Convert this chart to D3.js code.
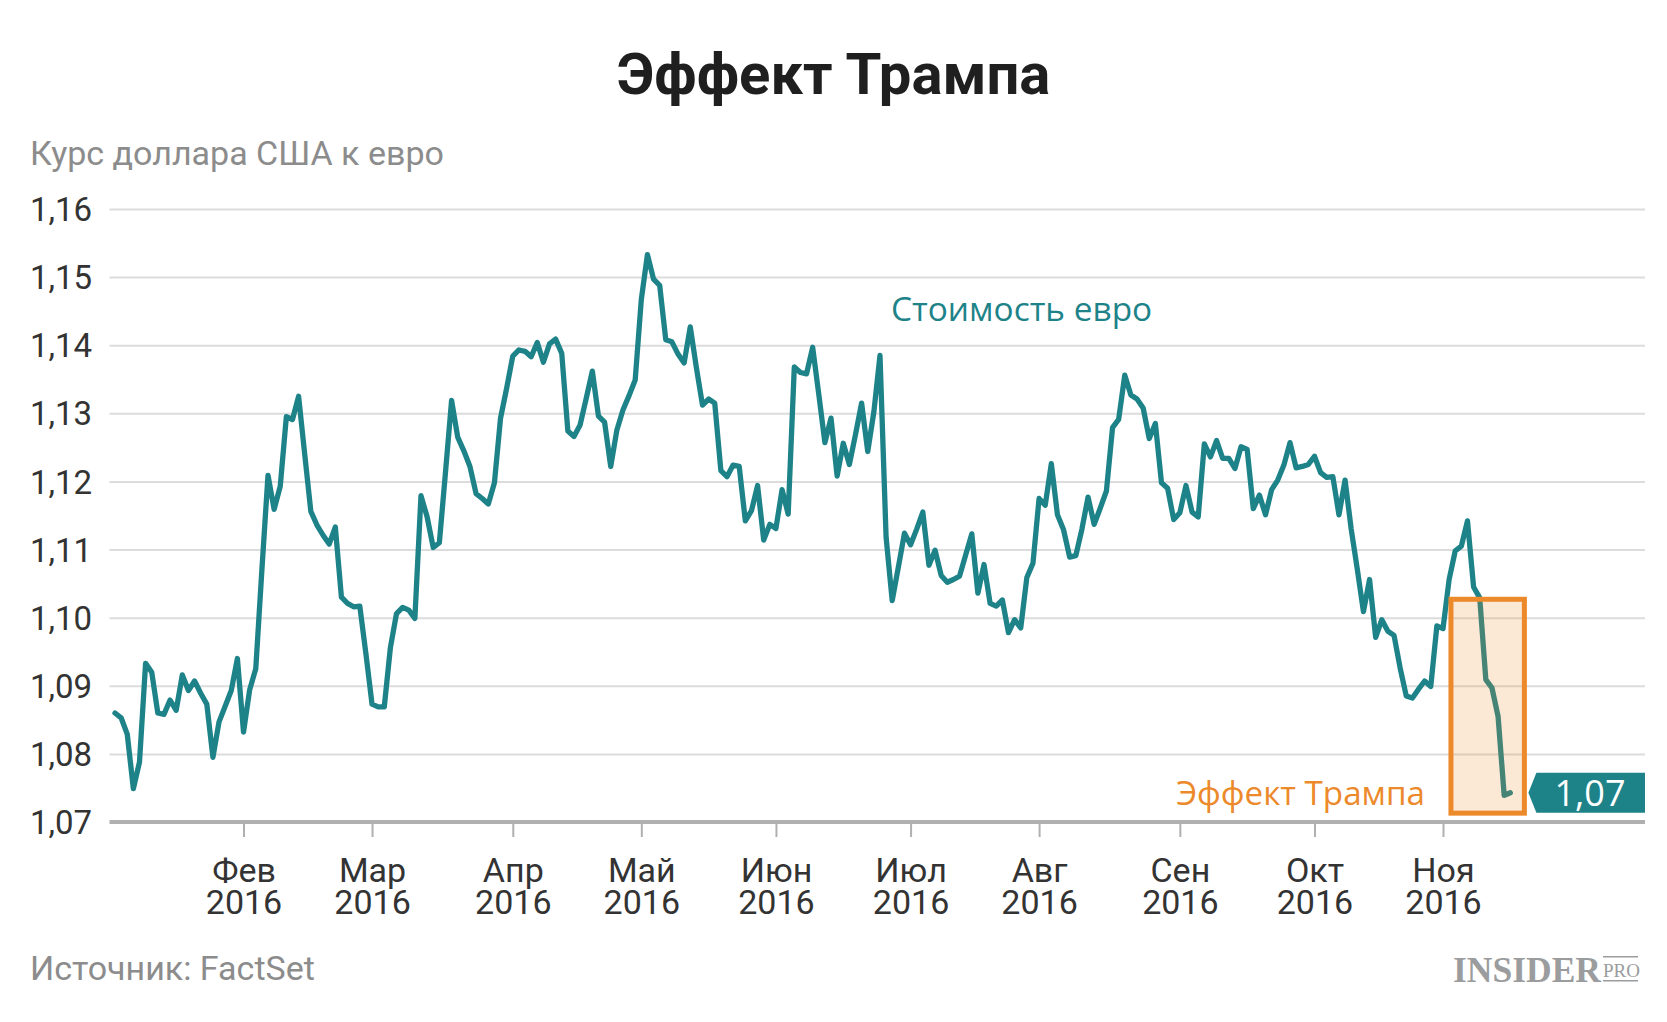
<!DOCTYPE html>
<html><head><meta charset="utf-8">
<script src="https://cdn.jsdelivr.net/npm/d3@7/dist/d3.min.js"></script>
<style>
html,body{margin:0;padding:0;background:#fff;}
svg{display:block;}
</style></head>
<body>
<svg id="chart" width="1667" height="1022"></svg>
<script>
// ---- DATA ----
const title = "Эффект Трампа";
const subtitle = "Курс доллара США к евро";
const source = "Источник: FactSet";
const seriesLabel = "Стоимость евро";
const eventLabel = "Эффект Трампа";
const firstDay = "2016-01-01"; // values are one per weekday starting here
const values = [
1.0860,1.0853,1.0829,1.0749,1.0788,1.0933,1.0920,1.0860,1.0858,1.0879,
1.0864,1.0916,1.0893,1.0907,1.0889,1.0873,1.0795,1.0847,1.0870,1.0893,
1.0940,1.0832,1.0894,1.0925,1.1070,1.1209,1.1159,1.1193,1.1295,1.1291,
1.1325,1.1240,1.1156,1.1136,1.1121,1.1108,1.1133,1.1030,1.1021,1.1016,
1.1017,1.0947,1.0873,1.0869,1.0869,1.0956,1.1006,1.1015,1.1011,1.0999,
1.1179,1.1148,1.1103,1.1110,1.1213,1.1319,1.1265,1.1245,1.1222,1.1182,
1.1175,1.1167,1.1198,1.1293,1.1337,1.1384,1.1393,1.1391,1.1383,1.1404,
1.1375,1.1402,1.1409,1.1388,1.1274,1.1266,1.1283,1.1322,1.1362,1.1296,
1.1287,1.1222,1.1275,1.1305,1.1326,1.1349,1.1467,1.1533,1.1497,1.1488,
1.1408,1.1405,1.1387,1.1374,1.1427,1.1367,1.1312,1.1321,1.1315,1.1216,
1.1207,1.1224,1.1222,1.1142,1.1157,1.1194,1.1114,1.1137,1.1131,1.1188,
1.1152,1.1368,1.1360,1.1358,1.1397,1.1328,1.1257,1.1293,1.1208,1.1256,
1.1225,1.1269,1.1315,1.1244,1.1302,1.1385,1.1118,1.1025,1.1074,1.1124,
1.1107,1.1130,1.1155,1.1077,1.1099,1.1062,1.1052,1.1056,1.1061,1.1092,
1.1123,1.1036,1.1078,1.1021,1.1017,1.1026,1.0978,1.0997,1.0985,1.1059,
1.1080,1.1175,1.1165,1.1226,1.1151,1.1129,1.1089,1.1091,1.1130,1.1177,
1.1137,1.1161,1.1186,1.1279,1.1291,1.1356,1.1327,1.1321,1.1308,1.1263,
1.1285,1.1198,1.1190,1.1144,1.1154,1.1194,1.1155,1.1148,1.1255,1.1236,
1.1260,1.1234,1.1234,1.1219,1.1251,1.1247,1.1160,1.1180,1.1151,1.1188,
1.1202,1.1224,1.1257,1.1220,1.1222,1.1225,1.1237,1.1213,1.1206,1.1207,
1.1151,1.1202,1.1130,1.1071,1.1009,1.1056,1.0971,1.0997,1.0980,1.0974,
1.0926,1.0885,1.0882,1.0895,1.0907,1.0899,1.0988,1.0984,1.1056,1.1098,
1.1105,1.1142,1.1045,1.1029,1.0909,1.0897,1.0855,1.0739,1.0743
];
const monthTickDates = ["2016-02-01","2016-03-01","2016-04-01","2016-05-02","2016-06-01","2016-07-01","2016-08-01","2016-09-01","2016-10-03","2016-11-01"];
const monthLabels = ["Фев","Мар","Апр","Май","Июн","Июл","Авг","Сен","Окт","Ноя"];
const yearLabel = "2016";
const yTicks = [1.07,1.08,1.09,1.10,1.11,1.12,1.13,1.14,1.15,1.16];
// highlighted period (trading-day index range and value range)
const boxDays = [218.3, 230.3];
const boxValues = [1.0713, 1.1027];

// ---- STYLE ----
const teal = "#1d8389", orange = "#ec8a2b";
const fontMain = "Roboto, 'Noto Sans', sans-serif";
const fontAnno = "'Open Sans', Roboto, sans-serif";

const svg = d3.select("#chart");
const W = 1667;
const gridLeft = 109.5, gridRight = 1645;

// weekday index helper
const parse = d3.utcParse("%Y-%m-%d");
const start = parse(firstDay);
function weekdayIndex(ds){
  const d = parse(ds);
  return d3.utcDay.range(start, d).filter(t => t.getUTCDay() !== 0 && t.getUTCDay() !== 6).length;
}
const tickIdx = monthTickDates.map(weekdayIndex);

const x = d3.scaleLinear().domain([0, 217]).range([115, 1443]);
const y = d3.scaleLinear().domain([1.07, 1.16]).range([822, 209]);
const fmt = v => d3.format(".2f")(v).replace(".", ",");

// title & texts
svg.append("text").attr("x", W/2).attr("y", 94).attr("text-anchor","middle")
  .attr("font-family", fontMain).attr("font-weight", 700).attr("font-size", 58)
  .attr("fill", "#1f1f1f").text(title);
svg.append("text").attr("x", 30).attr("y", 165)
  .attr("font-family", fontMain).attr("font-size", 34).attr("fill", "#8c8c8c").text(subtitle);
svg.append("text").attr("x", 30).attr("y", 980)
  .attr("font-family", fontMain).attr("font-size", 34).attr("fill", "#8c8c8c").text(source);

// y axis with gridlines
const yAxis = d3.axisRight(y).tickValues(yTicks).tickFormat(fmt).tickSize(gridRight - gridLeft).tickPadding(0);
const gy = svg.append("g").attr("transform", `translate(${gridLeft},0)`).call(yAxis);
gy.select(".domain").remove();
gy.selectAll(".tick line").attr("stroke", "#dcdcdc").attr("stroke-width", 2);
gy.selectAll(".tick text").attr("x", 30 - gridLeft).attr("dy", "0.35em").attr("text-anchor","start")
  .attr("font-family", fontMain).attr("font-size", 33).attr("fill", "#333");
gy.selectAll(".tick").filter(d => d === 1.07).select("line").remove();

// x axis
const xAxis = d3.axisBottom(x).tickValues(tickIdx).tickSize(15).tickFormat((d,i) => monthLabels[i]);
const gx = svg.append("g").attr("transform", "translate(0,822)").call(xAxis);
gx.select(".domain").remove();
gx.selectAll(".tick line").attr("stroke", "#b0b0b0").attr("stroke-width", 2);
gx.selectAll(".tick text").attr("y", 0).attr("dy", null)
  .attr("font-family", fontMain).attr("font-size", 34).attr("fill", "#333")
  .each(function(d,i){
    const t = d3.select(this); t.text(null);
    t.append("tspan").attr("x", 0).attr("y", 60).text(monthLabels[i]);
    t.append("tspan").attr("x", 0).attr("y", 92).text(yearLabel);
  });
svg.append("line").attr("x1", gridLeft).attr("x2", gridRight).attr("y1", y(1.07)).attr("y2", y(1.07))
  .attr("stroke", "#b0b0b0").attr("stroke-width", 4);

// line
const line = d3.line().x((d,i) => x(i)).y(d => y(d)).curve(d3.curveLinear);
svg.append("path").datum(values).attr("d", line).attr("fill","none")
  .attr("stroke", teal).attr("stroke-width", 5.3).attr("stroke-linejoin","round").attr("stroke-linecap","round");

// highlight box
svg.append("rect").attr("x", x(boxDays[0])).attr("y", y(boxValues[1]))
  .attr("width", x(boxDays[1]) - x(boxDays[0])).attr("height", y(boxValues[0]) - y(boxValues[1]))
  .attr("fill", orange).attr("fill-opacity", 0.2).attr("stroke", orange).attr("stroke-width", 5);

// annotations
svg.append("text").attr("x", 891).attr("y", y(1.1436))
  .attr("font-family", fontAnno).attr("font-size", 33.4).attr("fill", teal).text(seriesLabel);
svg.append("text").attr("x", x(boxDays[0]) - 26).attr("y", 805).attr("text-anchor","end")
  .attr("font-family", fontAnno).attr("font-size", 33.2).attr("fill", orange).text(eventLabel);

// last value flag
const last = values[values.length-1];
const ly = y(last), tipX = x(boxDays[1]) + 4;
svg.append("path").attr("d", `M${tipX},${ly} L${tipX+8},${ly-20} L${gridRight},${ly-20} L${gridRight},${ly+20} L${tipX+8},${ly+20} Z`)
  .attr("fill", teal);
svg.append("text").attr("x", 1590).attr("y", ly + 13).attr("text-anchor","middle")
  .attr("font-family", fontAnno).attr("font-size", 36).attr("fill", "#fff").text(fmt(last));

// logo
const logo = svg.append("g").attr("fill", "#9a9c9e");
logo.append("text").attr("x", 1453).attr("y", 982).attr("font-family", "'Liberation Serif', 'DejaVu Serif', serif")
  .attr("font-weight", 700).attr("font-size", 35.5).text("INSIDER");
logo.append("text").attr("x", 1603).attr("y", 977).attr("font-family", "'Liberation Serif', 'DejaVu Serif', serif")
  .attr("font-size", 19).text("PRO");
logo.append("rect").attr("x", 1603).attr("y", 956).attr("width", 35).attr("height", 1.5);
logo.append("rect").attr("x", 1603).attr("y", 980).attr("width", 35).attr("height", 1.5);
</script>
</body></html>
